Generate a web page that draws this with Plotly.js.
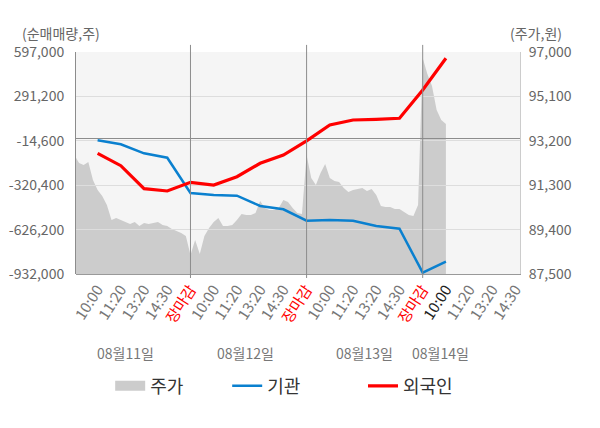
<!DOCTYPE html>
<html>
<head>
<meta charset="utf-8">
<script src="https://cdn.plot.ly/plotly-3.0.1.min.js"></script>
<style>
  html, body { margin: 0; padding: 0; background: #fff; }
  #chart { width: 600px; height: 428px; }
</style>
</head>
<body>
<div id="chart"></div>
<script>
// x axis: 5 slots per trading day, the last day is still open
let timeLabels = ['10:00', '11:20', '13:20', '14:30', '장마감',
                  '10:00', '11:20', '13:20', '14:30', '장마감',
                  '10:00', '11:20', '13:20', '14:30', '장마감',
                  '10:00', '11:20', '13:20', '14:30'];
let dates = ['08월11일', '08월12일', '08월13일', '08월14일'];

// 순매매량 (주), one value per slot, up to 08/14 10:00
let institution = [-11200, -38700, -100700, -131000, -374100,
                   -387800, -392500, -463600, -486500, -564800,
                   -560000, -565000, -601400, -619700, -923000,
                   -847000];
let foreign = [-100700, -186000, -344300, -360300, -300500,
               -319000, -261700, -169800, -112400, -15000,
               94200, 128700, 133300, 140400, 335300,
               553600];

// 주가 (원), read every 1/5 of a slot
let price = [
    // 08/11
    92590, 92250, 92165, 92290, 91520, 91095, 90840, 90450, 89810, 89900,
    89810, 89730, 89640, 89730, 89555, 89680, 89640, 89680, 89730, 89600,
    89555, 89430, 89340, 89255, 89130,
    // 08/12
    88310, 88960, 88360, 89130, 89470, 89730, 89900, 89555, 89555, 89600,
    89810, 90070, 90025, 90025, 90110, 90625, 90325, 90240, 90240, 90325,
    90670, 90580, 90325, 90110, 90070,
    // 08/13
    92590, 91610, 91310, 91820, 92210, 91610, 91480, 91440, 91180, 91010,
    91095, 91140, 91180, 91050, 91140, 90880, 90410, 90370, 90370, 90280,
    90280, 90150, 90025, 89980, 90450,
    // 08/14
    96740, 96060, 95545, 94520, 94090, 93920
];

let leftTicks = [597000, 291200, -14600, -320400, -626200, -932000];
let rightTicks = [97000, 95100, 93200, 91300, 89400, 87500];

main();

function main() {
    let font = '"Noto Sans CJK KR", "Noto Sans", sans-serif';
    let xRange = [0.07, 19.19];
    let lastSlot = institution.length;

    let ticktext = timeLabels.map((t, i) => {
        if (t === '장마감') return '<span style="color:#ff0000">' + t + '</span>';
        if (i + 1 === lastSlot) return '<span style="color:#222">' + t + '</span>';
        return t;
    });

    let traces = [
        {
            x: price.map((v, i) => i / 5),
            y: price,
            type: 'scatter',
            mode: 'none',
            fill: 'tozeroy',
            fillcolor: '#cccccc',
            name: '주가',
            showlegend: false,
            xaxis: 'x',
            yaxis: 'y'
        },
        // legend entry only
        {
            x: [null],
            y: [null],
            type: 'scatter',
            mode: 'lines',
            line: {color: '#cccccc', width: 13},
            name: '주가',
            legend: 'legend',
            xaxis: 'x',
            yaxis: 'y'
        },
        {
            x: institution.map((v, i) => i + 1),
            y: institution,
            type: 'scatter',
            mode: 'lines',
            line: {color: '#0a80cf', width: 2.5},
            name: '기관',
            legend: 'legend',
            xaxis: 'x2',
            yaxis: 'y2'
        },
        {
            x: foreign.map((v, i) => i + 1),
            y: foreign,
            type: 'scatter',
            mode: 'lines',
            line: {color: '#ff0000', width: 3.2},
            name: '외국인',
            legend: 'legend2',
            xaxis: 'x2',
            yaxis: 'y2'
        }
    ];

    // plot background + day separators
    let shapes = [{
        type: 'rect', xref: 'paper', yref: 'paper', x0: 0, x1: 1, y0: 0, y1: 1,
        fillcolor: '#f5f5f5', line: {width: 0}, layer: 'below'
    }];
    dates.slice(1).forEach((d, i) => {
        shapes.push({
            type: 'line', xref: 'x', yref: 'paper',
            x0: (i + 1) * 5, x1: (i + 1) * 5, y0: -0.018, y1: 1.032,
            line: {color: '#8c8c8c', width: 1}
        });
    });
    // the legend caps line width, so the 주가 swatch is filled out here
    shapes.push({
        type: 'rect', xref: 'paper', yref: 'paper',
        x0: 0.0878, x1: 0.1554, y0: -0.536, y1: -0.4775,
        fillcolor: '#cccccc', line: {width: 0}
    });

    let datePos = [2.19, 7.35, 12.5, 15.75];
    let annotations = dates.map((d, i) => ({
        text: d, x: datePos[i], xref: 'x', y: -0.356, yref: 'paper',
        xanchor: 'center', yanchor: 'middle',
        showarrow: false, font: {size: 14, color: '#777'}
    }));
    annotations.push({
        text: '(순매매량,주)', x: -0.033, xref: 'paper', y: 1.086, yref: 'paper',
        xanchor: 'center', yanchor: 'middle',
        showarrow: false, font: {size: 14, color: '#666'}
    });
    annotations.push({
        text: '(주가,원)', x: 1.035, xref: 'paper', y: 1.086, yref: 'paper',
        xanchor: 'center', yanchor: 'middle',
        showarrow: false, font: {size: 14, color: '#666'}
    });

    let legendFont = {size: 18, color: '#333'};

    let layout = {
        width: 600,
        height: 428,
        margin: {l: 76, r: 80, t: 52, b: 154},
        paper_bgcolor: '#ffffff',
        plot_bgcolor: 'rgba(0,0,0,0)',
        font: {family: font, size: 14, color: '#666'},
        showlegend: true,
        legend: {
            orientation: 'h',
            x: 0.077, xanchor: 'left',
            y: -0.505, yanchor: 'middle',
            entrywidth: 72,
            font: legendFont
        },
        legend2: {
            orientation: 'h',
            x: 0.6464, xanchor: 'left',
            y: -0.505, yanchor: 'middle',
            font: legendFont
        },
        xaxis: {
            range: xRange,
            tickvals: timeLabels.map((t, i) => i + 1),
            ticktext: ticktext,
            tickangle: -57,
            tickfont: {size: 15, color: '#777'},
            showgrid: false,
            zeroline: false,
            showline: true,
            linecolor: '#999',
            ticks: ''
        },
        yaxis: {
            range: [rightTicks[rightTicks.length - 1], rightTicks[0]],
            side: 'right',
            tickvals: rightTicks,
            ticktext: rightTicks.map(v => v.toLocaleString('en-US')),
            showgrid: false,
            zeroline: false,
            showline: true,
            linecolor: '#cccccc',
            ticklabelstandoff: 5
        },
        xaxis2: {
            range: xRange,
            anchor: 'y2',
            visible: false
        },
        yaxis2: {
            range: [leftTicks[leftTicks.length - 1], leftTicks[0]],
            anchor: 'x2',
            side: 'left',
            tickvals: leftTicks,
            ticktext: leftTicks.map(v => v.toLocaleString('en-US')),
            showgrid: true,
            gridcolor: '#dddddd',
            zeroline: true,
            zerolinecolor: '#8c8c8c',
            zerolinewidth: 1,
            showline: true,
            linecolor: '#8c8c8c',
            ticklabelstandoff: 8
        },
        shapes: shapes,
        annotations: annotations
    };

    Plotly.newPlot('chart', traces, layout, {displayModeBar: false, staticPlot: true});
}
</script>
</body>
</html>
